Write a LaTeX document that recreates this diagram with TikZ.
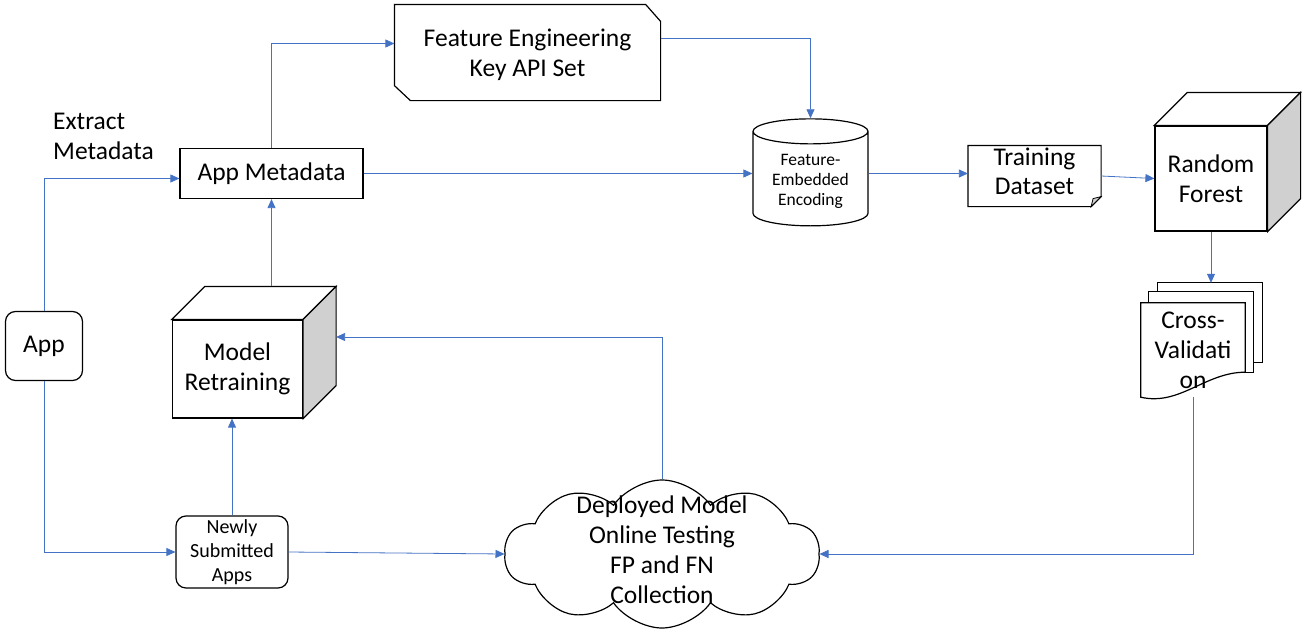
\documentclass[tikz,border=0pt]{standalone}
\usepackage{fontspec}
\setmainfont{Carlito}
\usepackage{tikz}
\usetikzlibrary{arrows.meta, positioning, shapes.geometric, shapes.symbols}
\definecolor{flowBlue}{HTML}{4472C4}
\definecolor{sideGray}{HTML}{D0D0D0}

\tikzset{
  box/.style={rectangle, draw=black, line width=1.2pt, fill=white, align=center, font=\fontsize{25.5}{30}\selectfont},
  roundbox/.style={box, rounded corners=10pt},
  flow/.style={draw=flowBlue, line width=0.8pt, -{Triangle[length=9pt,width=8pt]}},
  outline/.style={draw=black, line width=1.2pt}
}
% top and side faces of a cube around a box node
\newcommand{\cubefaces}[2]{%
  \draw[outline, fill=white] (#1.north west) -- ++(#2pt,#2pt) -- ([shift={(#2pt,#2pt)}]#1.north east) -- (#1.north east) -- cycle;
  \draw[outline, fill=sideGray] (#1.north east) -- ++(#2pt,#2pt) -- ([shift={(#2pt,#2pt)}]#1.south east) -- (#1.south east) -- cycle;
}

\begin{document}
\begin{tikzpicture}[x=1pt, y=-1pt]
  \useasboundingbox (0,0) rectangle (1304,640);

  % boxes
  \node[roundbox, minimum width=77pt, minimum height=69pt] (app) at (44,346) {App};
  \node[box, minimum width=183pt, minimum height=50pt] (meta) at (271.5,173.5) {App Metadata};
  \node[align=left, anchor=north west, inner sep=0pt, font=\fontsize{25.5}{30}\selectfont] (extract) at (53,113) {Extract\\Metadata};
  \node[box, draw=none, minimum width=265pt, minimum height=95pt, text depth=-3pt] (feat) at (527.5,52.5) {Feature Engineering\\Key API Set};
  \draw[outline] (feat.north west) -- ([xshift=-15pt]feat.north east) -- ([yshift=-17pt]feat.north east)
    -- (feat.south east) -- ([xshift=16pt]feat.south west) -- ([yshift=15pt]feat.south west) -- cycle;
  \node[cylinder, shape border rotate=90, outline, fill=white, aspect=0.3, minimum width=115pt, minimum height=107pt,
    align=center, font=\fontsize{17.5}{20}\selectfont] (enc) at (810.5,181) {Feature-\\Embedded\\Encoding};
  \node[box, draw=none, minimum width=132pt, minimum height=60pt] (train) at (1034.5,176) {};
  \node[align=center, font=\fontsize{25.5}{29}\selectfont] (traintext) at (1034.5,171) {Training\\Dataset};
  \draw[outline] (train.north west) -- (train.north east) -- ([yshift=10pt]train.south east)
    -- ([xshift=-10pt]train.south east) -- (train.south west) -- cycle;
  \draw[outline, fill=sideGray, line width=0.8pt] ([yshift=10pt]train.south east) -- ([shift={(-8pt,8pt)}]train.south east)
    -- ([xshift=-10pt]train.south east) -- cycle;
  \node[box, minimum width=112pt, minimum height=105pt] (forest) at (1211,178.5) {Random\\Forest};
  \cubefaces{forest}{33}
  \node[box, minimum width=130pt, minimum height=98pt] (retrain) at (237.5,369) {Model\\Retraining};
  \cubefaces{retrain}{33}
  \node[roundbox, minimum width=112pt, minimum height=72pt, font=\fontsize{20}{24}\selectfont] (new) at (232,552) {Newly\\Submitted\\Apps};
  \node[cloud, outline, fill=white, cloud puffs=10, cloud puff arc=110, cloud ignores aspect, inner sep=0pt,
    minimum width=315pt, minimum height=148pt] (cloud) at (662,554) {};
  \node[align=center, font=\fontsize{25.5}{30}\selectfont] (cloudtext) at (662,550) {Deployed Model\\Online Testing\\FP and FN\\Collection};

  % stacked pages
  \node[minimum width=104pt, minimum height=94pt, inner sep=0pt] (cv) at (1193,350) {};
  \draw[outline, fill=white] ([shift={(17pt,20pt)}]cv.north west) rectangle ([shift={(17pt,35pt)}]cv.south east);
  \draw[outline, fill=white] ([shift={(8pt,11pt)}]cv.north west) rectangle ([shift={(8pt,25pt)}]cv.south east);
  \draw[outline, fill=white] (cv.north west) -- (cv.north east) -- ([yshift=25pt]cv.south east)
    .. controls ([shift={(-40pt,25pt)}]cv.south east) and ([shift={(39pt,-9pt)}]cv.south west) .. (cv.south west) -- cycle;
  \node[align=center, font=\fontsize{25.5}{30}\selectfont] (cvtext) at (cv.center) {Cross-\\Validati\\on};
  \coordinate (cvtop) at ([yshift=20pt]cv.north);
  \coordinate (retraintop) at ([yshift=33pt]retrain.north);

  % connectors
  \draw[flow] (app.north) |- ([yshift=-5pt]meta.west);
  \draw[flow] (app.south) |- (new.west);
  \draw[flow] (new.north) -- (new.north |- retrain.south);
  \draw[flow] (retraintop -| meta.south) -- (meta.south);
  \draw[flow] (meta.north) |- ([yshift=9pt]feat.west);
  \draw[flow] ([yshift=14pt]feat.east) -| (enc.north);
  \draw[flow] (meta.east) -- (meta.east -| enc.west);
  \draw[flow] (meta.east -| enc.east) -- (meta.east -| train.west);
  \draw[flow] (train.east) -- (forest.west);
  \draw[flow] (forest.south) -- (forest.south |- cvtop);
  \draw[flow] (cv.south) |- (cloud.east);
  \draw[flow] (new.east) -- (cloud.west);
  \draw[flow] (cloud.north) |- ([shift={(33pt,32pt)}]retrain.east);
\end{tikzpicture}
\end{document}
